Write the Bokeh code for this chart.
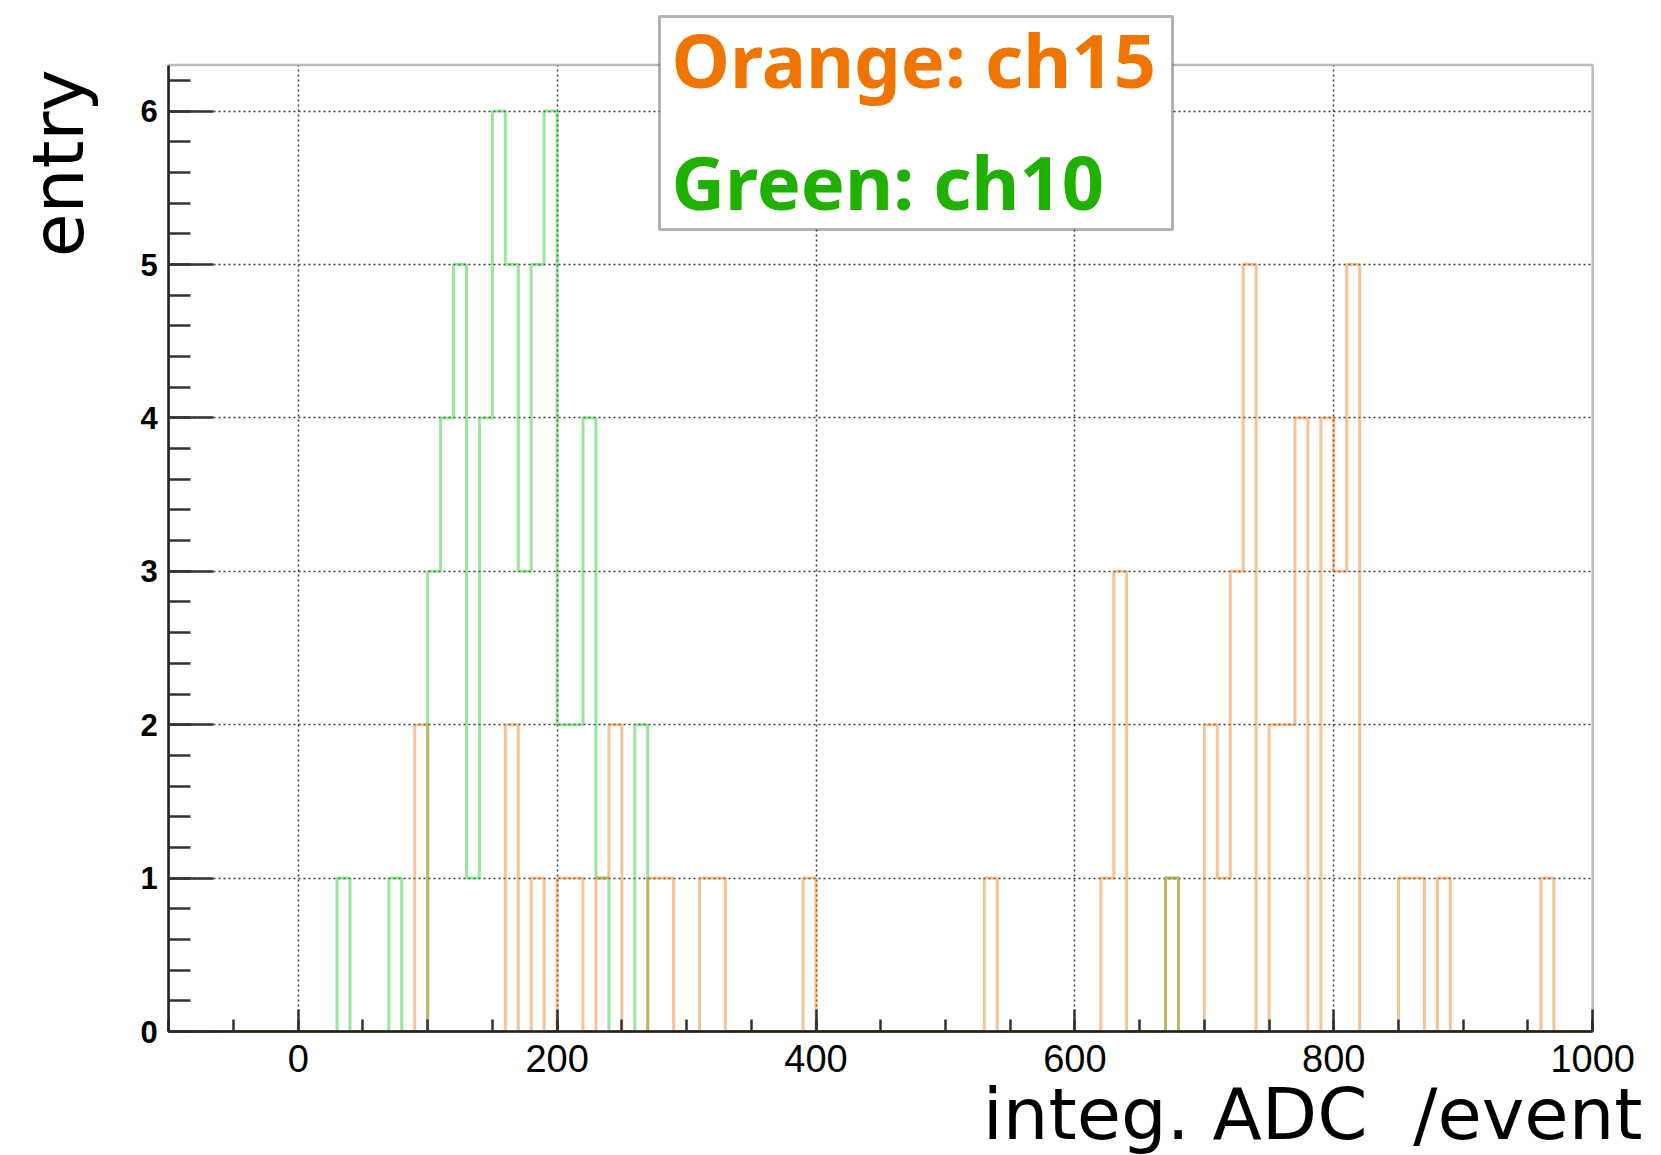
import numpy as np
from bokeh.plotting import figure
from bokeh.models import Range1d, FixedTicker, Label, BoxAnnotation
from bokeh.embed import file_html
from bokeh.resources import INLINE

# ---------------- data (bin width 10, histogram range -100 .. 1000) ----------------
HIST_MIN, HIST_MAX, BIN_W = -100, 1000, 10
Y_AXIS_MAX = 6.3

ch15_bin_left = [90, 160, 180, 200, 210, 230, 240, 270, 280, 310, 320, 390, 530,
                 620, 630, 670, 700, 710, 720, 730, 750, 760, 770, 790, 800, 810,
                 850, 860, 880, 960]
ch15_entries = [2, 2, 1, 1, 1, 1, 2, 1, 1, 1, 1, 1, 1,
                1, 3, 1, 2, 1, 3, 5, 2, 2, 4, 4, 3, 5,
                1, 1, 1, 1]

ch10_bin_left = [30, 70, 100, 110, 120, 130, 140, 150, 160, 170, 180, 190,
                 200, 210, 220, 230, 260, 670]
ch10_entries = [1, 1, 3, 4, 5, 1, 4, 6, 5, 3, 5, 6,
                2, 2, 4, 1, 2, 1]

x_major_ticks = [0, 200, 400, 600, 800, 1000]
y_major_ticks = [0, 1, 2, 3, 4, 5, 6]
legend_lines = ["Orange: ch15", "Green: ch10"]
x_title = "integ. ADC \u00a0/event"
y_title = "entry"

edges = np.arange(HIST_MIN, HIST_MAX + BIN_W, BIN_W)


def step_counts(lefts, entries):
    c = np.zeros(len(edges) - 1)
    for l, e in zip(lefts, entries):
        c[int(round((l - HIST_MIN) / BIN_W))] = e
    return np.append(c, 0.0)


# ---------------- geometry: the frame fills the canvas ----------------
W, H = 1661, 1155
PX_X0, PX_PER_X = 297.7, 1.2945      # canvas x of data 0, pixels per unit
PX_Y0, PX_PER_Y = 1031.0, 153.4      # canvas y of data 0, pixels per unit

x_start = -PX_X0 / PX_PER_X
x_end = (W - PX_X0) / PX_PER_X
y_start = (PX_Y0 - H) / PX_PER_Y
y_end = PX_Y0 / PX_PER_Y


def dx(px):  # canvas pixel -> data x
    return (px - PX_X0) / PX_PER_X


def dy(py):  # canvas pixel (from top) -> data y
    return (PX_Y0 - py) / PX_PER_Y


p = figure(width=W, height=H, output_backend="svg", toolbar_location=None,
           x_range=Range1d(x_start, x_end), y_range=Range1d(y_start, y_end),
           min_border=0, min_border_left=0, min_border_right=0,
           min_border_top=0, min_border_bottom=0)
p.background_fill_color = "white"
p.border_fill_color = "white"
p.outline_line_color = None

# grid, limited to the histogram box
p.xgrid.ticker = FixedTicker(ticks=[0, 200, 400, 600, 800])
p.ygrid.ticker = FixedTicker(ticks=[1, 2, 3, 4, 5, 6])
for g, cb in ((p.xgrid[0], (0, Y_AXIS_MAX)), (p.ygrid[0], (HIST_MIN, HIST_MAX))):
    g.grid_line_color = "#3a3a3a"
    g.grid_line_dash = "2 3"
    g.grid_line_width = 1.5
    if "cross_bounds" in g.properties():
        g.cross_bounds = cb

# white masks outside the histogram box (hide any grid lines there)
XL, XR, YB, YT = x_start - 500, x_end + 500, y_start - 5, y_end + 5
for kw in (dict(left=XL, right=HIST_MIN, bottom=YB, top=YT),
           dict(left=HIST_MAX, right=XR, bottom=YB, top=YT),
           dict(left=XL, right=XR, bottom=Y_AXIS_MAX, top=YT),
           dict(left=XL, right=XR, bottom=YB, top=0)):
    p.add_layout(BoxAnnotation(fill_color="white", fill_alpha=1.0,
                               line_color=None, level="underlay", **kw))

# axes at fixed data positions
p.xaxis.fixed_location = 0
p.yaxis.fixed_location = HIST_MIN
p.xaxis.bounds = (HIST_MIN, HIST_MAX)
p.yaxis.bounds = (0, Y_AXIS_MAX)
p.xaxis.ticker = FixedTicker(ticks=x_major_ticks,
                             minor_ticks=list(range(-100, 1001, 50)))
p.yaxis.ticker = FixedTicker(ticks=y_major_ticks,
                             minor_ticks=[round(0.2 * k, 1) for k in range(32)])
for ax in (p.xaxis, p.yaxis):
    ax.axis_line_color = "#222222"
    ax.axis_line_width = 2.5
    ax.major_tick_line_color = "#333333"
    ax.minor_tick_line_color = "#333333"
    ax.major_tick_line_width = 2.5
    ax.minor_tick_line_width = 2.5
    ax.major_tick_out = 0
    ax.minor_tick_out = 0
    ax.major_label_text_color = "black"
p.xaxis.major_tick_in = 22
p.xaxis.minor_tick_in = 12
p.yaxis.major_tick_in = 45
p.yaxis.minor_tick_in = 22
p.xaxis.major_label_text_font = "Liberation Sans"
p.xaxis.major_label_text_font_size = "38px"
p.xaxis.major_label_standoff = 13
p.yaxis.major_label_text_font = "Liberation Sans"
p.yaxis.major_label_text_font_style = "bold"
p.yaxis.major_label_text_font_size = "31px"
p.yaxis.major_label_standoff = 11

# histograms
p.step(edges, step_counts(ch10_bin_left, ch10_entries), mode="after",
       line_color="#1ec81e", line_alpha=0.45, line_width=3)
p.step(edges, step_counts(ch15_bin_left, ch15_entries), mode="after",
       line_color="#e87a1a", line_alpha=0.45, line_width=3)

# box outline of the histogram area
p.add_layout(BoxAnnotation(left=HIST_MIN, right=HIST_MAX, bottom=0, top=Y_AXIS_MAX,
                           fill_alpha=0.0, line_color="#222222", line_width=2.5))

# axis titles (baseline offset of Bokeh's alphabetic anchor ~0.346 em for DejaVu)
p.add_layout(Label(x=dx(1642), y=dy(1138 - 0.346 * 72), text=x_title,
                   text_align="right", text_baseline="alphabetic",
                   text_font="DejaVu Sans", text_font_size="72px",
                   text_color="black"))
p.add_layout(Label(x=dx(83 - 0.346 * 71), y=dy(69), text=y_title, angle=np.pi / 2,
                   text_align="right", text_baseline="alphabetic",
                   text_font="DejaVu Sans", text_font_size="71px",
                   text_color="black"))

# legend box
p.add_layout(BoxAnnotation(left=dx(659), right=dx(1172), top=dy(16), bottom=dy(229),
                           fill_color="white", fill_alpha=1.0,
                           line_color="black", line_width=3))
p.add_layout(Label(x=dx(671), y=dy(88 - 0.388 * 74), text=legend_lines[0],
                   text_align="left", text_baseline="alphabetic",
                   text_font="Noto Sans", text_font_style="bold",
                   text_font_size="74px", text_color="#f07400"))
p.add_layout(Label(x=dx(671), y=dy(210 - 0.388 * 74), text=legend_lines[1],
                   text_align="left", text_baseline="alphabetic",
                   text_font="Noto Sans", text_font_style="bold",
                   text_font_size="74px", text_color="#1fb000"))

open("out.html", "w").write(file_html(p, INLINE))
